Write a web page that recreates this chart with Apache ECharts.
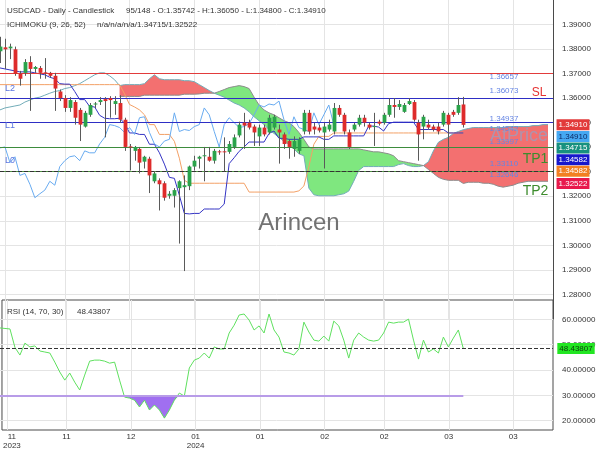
<!DOCTYPE html>
<html><head><meta charset="utf-8">
<script src="https://cdn.jsdelivr.net/npm/echarts@6/dist/echarts.min.js"></script>
<style>html,body{margin:0;padding:0;background:#fff}#c{width:600px;height:450px}</style>
</head><body><div id="c"></div>
<script>
// ---------- data ----------
const tickBars   = [2, 13, 26, 39, 52, 65, 77, 90, 103];
const tickLabels = ['11\n2023', '11', '12', '01\n2024', '01', '02', '02', '03', '03'];
const gridBars   = [1, 13, 26, 39, 52, 65, 77, 90, 103];
const slotCount = 112;

// [open, close, low, high]
const candles = [
[1.3791,1.3810,1.3743,1.3850],[1.3807,1.3799,1.3719,1.3842],[1.3803,1.3810,1.3759,1.3822],[1.3799,1.3699,1.3691,1.3810],[1.3699,1.3679,1.3651,1.3711],
[1.3703,1.3747,1.3691,1.3759],[1.3747,1.3719,1.3548,1.3771],[1.3719,1.3727,1.3703,1.3731],[1.3723,1.3703,1.3679,1.3731],[1.3703,1.3699,1.3679,1.3763],
[1.3703,1.3691,1.3683,1.3707],[1.3691,1.3639,1.3548,1.3703],[1.3627,1.3600,1.3588,1.3635],[1.3600,1.3560,1.3544,1.3612],[1.3560,1.3592,1.3544,1.3604],
[1.3584,1.3520,1.3492,1.3592],[1.3552,1.3492,1.3425,1.3560],[1.3484,1.3540,1.3480,1.3548],[1.3532,1.3572,1.3524,1.3580],[1.3572,1.3576,1.3560,1.3584],
[1.3584,1.3592,1.3572,1.3604],[1.3596,1.3588,1.3440,1.3604],[1.3600,1.3592,1.3520,1.3608],[1.3576,1.3588,1.3532,1.3608],[1.3580,1.3512,1.3500,1.3612],
[1.3512,1.3401,1.3385,1.3520],[1.3401,1.3397,1.3305,1.3413],[1.3385,1.3401,1.3345,1.3405],[1.3393,1.3337,1.3293,1.3401],[1.3341,1.3361,1.3313,1.3365],
[1.3353,1.3285,1.3213,1.3361],[1.3261,1.3293,1.3253,1.3301],[1.3265,1.3249,1.3142,1.3273],[1.3253,1.3194,1.3182,1.3261],[1.3202,1.3210,1.3190,1.3221],
[1.3202,1.3225,1.3154,1.3233],[1.3233,1.3261,1.3007,1.3265],[1.3237,1.3245,1.2895,1.3285],[1.3241,1.3321,1.3225,1.3325],[1.3321,1.3345,1.3305,1.3365],
[1.3353,1.3361,1.3313,1.3365],[1.3361,1.3365,1.3261,1.3401],[1.3361,1.3345,1.3341,1.3401],[1.3345,1.3385,1.3333,1.3393],[1.3381,1.3377,1.3369,1.3389],
[1.3381,1.3377,1.3301,1.3440],[1.3381,1.3413,1.3373,1.3425],[1.3401,1.3440,1.3393,1.3452],[1.3448,1.3492,1.3440,1.3504],[1.3500,1.3488,1.3393,1.3540],
[1.3500,1.3480,1.3472,1.3512],[1.3484,1.3460,1.3405,1.3492],[1.3444,1.3480,1.3405,1.3492],[1.3480,1.3452,1.3444,1.3492],[1.3460,1.3520,1.3452,1.3532],
[1.3480,1.3524,1.3472,1.3532],[1.3472,1.3460,1.3333,1.3492],[1.3452,1.3413,1.3393,1.3460],[1.3425,1.3401,1.3353,1.3432],[1.3393,1.3425,1.3361,1.3444],
[1.3385,1.3432,1.3373,1.3440],[1.3464,1.3540,1.3452,1.3552],[1.3540,1.3464,1.3452,1.3552],[1.3484,1.3472,1.3452,1.3500],[1.3480,1.3468,1.3460,1.3492],
[1.3460,1.3484,1.3313,1.3500],[1.3472,1.3492,1.3464,1.3512],[1.3464,1.3560,1.3452,1.3580],[1.3560,1.3532,1.3524,1.3572],[1.3532,1.3464,1.3452,1.3540],
[1.3460,1.3401,1.3393,1.3472],[1.3472,1.3492,1.3464,1.3500],[1.3492,1.3520,1.3484,1.3532],[1.3520,1.3500,1.3484,1.3532],[1.3492,1.3480,1.3472,1.3500],
[1.3480,1.3484,1.3405,1.3540],[1.3504,1.3496,1.3488,1.3512],[1.3500,1.3532,1.3492,1.3540],[1.3532,1.3572,1.3524,1.3600],[1.3572,1.3564,1.3520,1.3600],
[1.3564,1.3576,1.3552,1.3592],[1.3544,1.3572,1.3540,1.3580],[1.3576,1.3588,1.3572,1.3600],[1.3584,1.3512,1.3504,1.3592],[1.3500,1.3452,1.3345,1.3512],
[1.3484,1.3524,1.3432,1.3532],[1.3492,1.3480,1.3472,1.3512],[1.3484,1.3472,1.3464,1.3492],[1.3484,1.3464,1.3452,1.3500],[1.3492,1.3540,1.3484,1.3548],
[1.3532,1.3492,1.3301,1.3540],[1.3544,1.3532,1.3524,1.3552],[1.3540,1.3572,1.3532,1.3604],[1.35742,1.34910,1.34800,1.36050]
];

const tenkan = [
1.3723,1.3719,1.3715,1.3711,1.3707,1.3707,1.3707,1.3703,1.3699,1.3695,
1.3685,1.3679,1.3659,1.3657,1.3657,1.3627,1.3594,1.3594,1.3566,1.3564,
1.3530,1.3518,1.3516,1.3516,1.3518,1.3498,1.3458,1.3458,1.3452,1.3452,
1.3412,1.3412,1.3377,1.3331,1.3277,1.3273,1.3204,1.3130,1.3128,1.3130,
1.3130,1.3148,1.3148,1.3148,1.3148,1.3168,1.3333,1.3357,1.3383,1.3401,
1.3421,1.3421,1.3421,1.3421,1.3456,1.3466,1.3436,1.3436,1.3432,1.3432,
1.3432,1.3442,1.3442,1.3442,1.3442,1.3432,1.3432,1.3446,1.3446,1.3446,
1.3446,1.3446,1.3446,1.3446,1.3486,1.3486,1.3482,1.3466,1.3496,1.3502,
1.3502,1.3502,1.3502,1.3502,1.3472,1.3472,1.3472,1.3472,1.3472,1.3472,
1.3458,1.3458,1.3458,1.3458];

const kijun = [
1.3655,1.3655,1.3655,1.3655,1.3655,1.3655,1.3655,1.3655,1.3655,1.3655,
1.3655,1.3655,1.3655,1.3655,1.3655,1.3655,1.3655,1.3655,1.3655,1.3655,
1.3655,1.3655,1.3655,1.3655,1.3655,1.3617,1.3574,1.3564,1.3552,1.3532,
1.3492,1.3492,1.3452,1.3452,1.3452,1.3424,1.3355,1.3265,1.3253,1.3253,
1.3253,1.3253,1.3253,1.3253,1.3253,1.3253,1.3253,1.3253,1.3253,1.3253,
1.3217,1.3217,1.3217,1.3217,1.3217,1.3217,1.3217,1.3217,1.3217,1.3217,
1.3222,1.3242,1.3321,1.3412,1.3444,1.3444,1.3444,1.3458,1.3458,1.3458,
1.3458,1.3458,1.3458,1.3458,1.3458,1.3458,1.3458,1.3458,1.3458,1.3458,
1.3458,1.3458,1.3458,1.3458,1.3458,1.3458,1.3458,1.3458,1.3458,1.3458,
1.3458,1.3458,1.3458,1.3458];

const chikou = [
1.3397,1.3401,1.3337,1.3361,1.3285,1.3293,1.3249,1.3194,1.3210,1.3225,
1.3261,1.3245,1.3321,1.3345,1.3361,1.3365,1.3345,1.3385,1.3377,1.3377,
1.3413,1.3440,1.3492,1.3488,1.3480,1.3460,1.3480,1.3452,1.3520,1.3524,
1.3460,1.3413,1.3401,1.3425,1.3432,1.3540,1.3464,1.3472,1.3468,1.3484,
1.3492,1.3560,1.3532,1.3464,1.3401,1.3492,1.3520,1.3500,1.3480,1.3484,
1.3496,1.3532,1.3572,1.3564,1.3576,1.3572,1.3588,1.3512,1.3452,1.3524,
1.3480,1.3472,1.3464,1.3540,1.3492,1.3532,1.3572,1.3491];

const senkouA = [
1.3552,1.3560,1.3564,1.3568,1.3572,1.3584,1.3592,1.3600,1.3604,1.3612,
1.3620,1.3627,1.3631,1.3639,1.3643,1.3651,1.3659,1.3671,1.3683,1.3695,
1.3703,1.3703,1.3691,1.3675,1.3651,1.3655,1.3655,1.3655,1.3655,1.3659,
1.3679,1.3695,1.3679,1.3675,1.3675,1.3675,1.3675,1.3671,1.3671,1.3667,
1.3655,1.3643,1.3631,1.3620,1.3612,1.3604,1.3592,1.3580,1.3572,1.3560,
1.3544,1.3524,1.3508,1.3492,1.3472,1.3456,1.3440,1.3424,1.3412,1.3393,
1.3373,1.3365,1.3233,1.3206,1.3202,1.3202,1.3202,1.3202,1.3206,1.3210,
1.3221,1.3261,1.3305,1.3321,1.3321,1.3321,1.3321,1.3321,1.3321,1.3321,
1.3329,1.3333,1.3325,1.3321,1.3321,1.3325,1.3341,1.3385,1.3420,1.3432,
1.3440,1.3456,1.3464,1.34715,1.3476,1.3480,1.3480,1.3480,1.3480,1.3480,
1.3480,1.3480,1.3484,1.3484,1.3484,1.3484,1.3484,1.3488,1.3488,1.3492,1.3492];

const senkouB = [
null,null,null,null,null,null,null,null,null,null,
null,null,null,null,null,null,null,null,null,null,
null,null,null,null,1.3607,1.3607,1.3607,1.3607,1.3607,1.3612,
1.3612,1.3612,1.3612,1.3612,1.3612,1.3612,1.3612,1.3616,1.3616,1.3616,
1.3617,1.3620,1.3620,1.3620,1.3627,1.3635,1.3643,1.3647,1.3651,1.3647,
1.3639,1.3604,1.3572,1.3552,1.3540,1.3532,1.3520,1.3508,1.3500,1.3484,
1.3460,1.3432,1.3401,1.3393,1.3393,1.3393,1.3393,1.3393,1.3393,1.3393,
1.3393,1.3393,1.3393,1.3389,1.3385,1.3381,1.3381,1.3377,1.3373,1.3365,
1.3345,1.3341,1.3337,1.3333,1.3329,1.3325,1.3309,1.3293,1.3277,1.3269,
1.3265,1.3265,1.3265,1.32522,1.3257,1.3257,1.3257,1.3253,1.3253,1.3249,
1.3241,1.3237,1.3241,1.3245,1.3253,1.3257,1.3261,1.3261,1.3261,1.3261,1.3261];

const rsi = [
56.6,56.4,56.2,48.9,45.9,50.6,49.1,49.5,47.5,47.1,
46.7,43.1,39.2,36.0,38.8,35.2,32.1,38.0,43.5,43.9,
43.9,43.5,42.7,43.1,36.0,29.3,28.9,28.1,25.4,28.1,
24.2,26.2,24.2,21.0,24.2,28.1,30.9,29.7,40.8,43.9,
44.7,46.7,44.7,49.1,48.3,48.3,54.6,57.7,61.7,62.1,
59.7,55.8,57.4,54.6,62.1,55.8,53.0,47.1,46.7,45.9,
48.3,58.9,55.0,51.8,51.4,53.4,51.4,59.3,57.4,51.8,
44.7,51.8,54.6,53.0,51.8,51.4,51.8,54.6,58.9,58.5,
58.9,58.9,60.1,51.8,44.3,51.8,47.1,48.3,46.7,53.0,
49.1,52.6,55.8,48.43807];
const rsiLast = 48.43807;
const rsiLow = 30;

// horizontal levels
const levelValues = [1.36657, 1.36073, 1.34937, 1.34910, 1.34715, 1.34582, 1.34542, 1.33997, 1.33110, 1.32646, 1.32522];
const levelLabels = ['1.36657', '1.36073', '1.34937', '', '', '', '1.34542', '1.33997', '1.33110', '1.32646', ''];
const levelColors = ['#e23b3b', '#2e2ec4', '#333333', '#333333', '#333333', '#2e2ec4', '#2e2ec4', '#3d8c3d', '#5050e0', '#4d9440', '#333333'];
const levelTypes  = ['solid', 'solid', 'dashed', 'dashed', 'dashed', 'solid', 'dashed', 'solid', 'solid', 'solid', 'dashed'];

// price tags on the right axis
const tagValues = [1.34910, 1.34910, 1.34715, 1.34582, 1.34582, 1.32522];
const tagBg     = ['#e23a3a', '#45a8f2', '#17917f', '#1717cc', '#f28022', '#e8194c'];
const tagFg     = ['#ffffff', '#0d2a66', '#ffffff', '#ffffff', '#ffffff', '#ffffff'];

// ---------- chart ----------
const FONT = '"Liberation Sans",Arial,Helvetica,sans-serif';
const PW = 553;
const cats = Array.from({length: slotCount}, (_, i) => String(i));
const gridSet = new Set(gridBars);
const labelAt = {}; tickBars.forEach((b, k) => labelAt[b] = tickLabels[k]);

const candleData = candles.map((d, i) => [i, d[0], d[1], d[2], d[3]]);
const redBase = [], redDiff = [], greenBase = [], greenDiff = [];
senkouA.forEach((a, i) => {
  const b = senkouB[i];
  if (a == null || b == null) { redBase.push(null); redDiff.push(null); greenBase.push(null); greenDiff.push(null); return; }
  redBase.push(b); redDiff.push(+(Math.max(a - b, 0)).toFixed(6));
  greenBase.push(a); greenDiff.push(+(Math.max(b - a, 0)).toFixed(6));
});
const rsiFloor = rsi.map(v => Math.min(v, rsiLow));
const rsiGap = rsi.map(v => +(rsiLow - Math.min(v, rsiLow)).toFixed(4));

function renderCandle(params, api) {
  const i = api.value(0), o = api.value(1), c = api.value(2), l = api.value(3), h = api.value(4);
  const po = api.coord([i, o]), pc = api.coord([i, c]), pl = api.coord([i, l]), ph = api.coord([i, h]);
  const x = Math.round(po[0]) + 0.5;
  const bw = 3.8;
  let top = Math.min(po[1], pc[1]), hg = Math.abs(po[1] - pc[1]);
  if (hg < 1) { top -= 0.5; hg = 1; }
  return { type: 'group', children: [
    { type: 'line', shape: { x1: x, y1: ph[1], x2: x, y2: pl[1] }, style: { stroke: '#5a5a5a', lineWidth: 1 } },
    { type: 'rect', shape: { x: x - bw / 2, y: top, width: bw, height: hg }, style: { fill: c >= o ? '#2aa34a' : '#de2b2b' } }
  ]};
}

const xAxisBase = (gi) => ({
  type: 'category', data: cats, gridIndex: gi, boundaryGap: false,
  axisLine: { show: false }, axisTick: { show: false }, axisLabel: { show: false },
  splitLine: { show: gi !== 1, interval: (idx) => gridSet.has(idx), lineStyle: { color: '#e4e4e4', width: 1 } }
});
const xAxes = [xAxisBase(0), xAxisBase(1), xAxisBase(2)];
xAxes[2].axisLabel = {
  show: true, interval: (idx) => labelAt[idx] !== undefined, formatter: (v, idx) => labelAt[idx] || '',
  fontSize: 8, lineHeight: 8.5, margin: 3, color: '#333', fontFamily: FONT
};

const lineS = (name, data, color, z, xi = 0, yi = 0) => ({
  name, type: 'line', data, xAxisIndex: xi, yAxisIndex: yi, symbol: 'none', silent: true,
  lineStyle: { color, width: 1 }, itemStyle: { color }, z
});

const option = {
  animation: false,
  grid: [
    { left: 0, width: PW, top: -7.6, height: 326.5 },
    { left: 0, width: PW, top: 294, height: 152 },
    { left: 0, width: PW, top: 300, height: 132, show: true, borderColor: '#4a4a4a', borderWidth: 1, backgroundColor: 'transparent' }
  ],
  xAxis: xAxes,
  yAxis: [
    { type: 'value', gridIndex: 0, position: 'right', min: 1.27, max: 1.40, interval: 0.01,
      axisLine: { show: true, lineStyle: { color: '#4a4a4a' } }, axisTick: { show: false },
      axisLabel: { fontSize: 8, color: '#333', fontFamily: FONT, margin: 9,
        formatter: v => (v < 1.275 || v > 1.395) ? '' : v.toFixed(5) },
      splitLine: { show: true, showMinLine: false, showMaxLine: false, lineStyle: { color: '#e4e4e4' } } },
    { type: 'value', gridIndex: 1, position: 'right', min: 10, max: 70, interval: 10,
      axisLine: { show: false }, axisTick: { show: false },
      axisLabel: { fontSize: 8, color: '#333', fontFamily: FONT, margin: 9,
        formatter: v => (v < 15 || v > 65) ? '' : v.toFixed(5) },
      splitLine: { show: true, showMinLine: false, showMaxLine: false, lineStyle: { color: '#e4e4e4' } } },
    { type: 'value', gridIndex: 2, show: false }
  ],
  series: [
    { type: 'line', data: redBase, stack: 'red', symbol: 'none', silent: true, lineStyle: { width: 0 }, z: 1 },
    { type: 'line', data: redDiff, stack: 'red', symbol: 'none', silent: true, lineStyle: { width: 0 }, areaStyle: { color: '#f37070', opacity: 1 }, z: 1 },
    { type: 'line', data: greenBase, stack: 'green', symbol: 'none', silent: true, lineStyle: { width: 0 }, z: 1 },
    { type: 'line', data: greenDiff, stack: 'green', symbol: 'none', silent: true, lineStyle: { width: 0 }, areaStyle: { color: '#7fe77f', opacity: 1 }, z: 1 },
    lineS('senkouA', senkouA, '#72acb8', 2),
    lineS('senkouB', senkouB, '#8c8c8c', 2),
    Object.assign(lineS('kijun', kijun, '#f3a066', 3), {
      markLine: { silent: true, symbol: 'none', label: { show: false }, animation: false,
        data: levelValues.map((v, k) => ({ yAxis: v, lineStyle: { color: levelColors[k], type: levelTypes[k], width: 1 } })) }
    }),
    lineS('tenkan', tenkan, '#3434c4', 3),
    lineS('chikou', chikou, '#68abf0', 3),
    { type: 'custom', data: candleData, renderItem: renderCandle, xAxisIndex: 0, yAxisIndex: 0,
      encode: { x: 0, y: [1, 2, 3, 4] }, clip: true, silent: true, z: 5 },
    { type: 'line', data: rsiFloor, stack: 'rsi', xAxisIndex: 1, yAxisIndex: 1, symbol: 'none', silent: true, lineStyle: { width: 0 }, z: 1 },
    { type: 'line', data: rsiGap, stack: 'rsi', xAxisIndex: 1, yAxisIndex: 1, symbol: 'none', silent: true, lineStyle: { width: 0 }, areaStyle: { color: '#a06ff0', opacity: 1 }, z: 1 },
    Object.assign(lineS('rsi', rsi, '#5fe05f', 4, 1, 1), {
      markLine: { silent: true, symbol: 'none', label: { show: false }, animation: false,
        data: [
          { yAxis: rsiLast, lineStyle: { color: '#333', type: 'dashed', width: 1 } },
          [ { coord: [0, rsiLow], lineStyle: { color: '#b89ce8', type: 'solid', width: 2 } }, { coord: [rsi.length - 1, rsiLow] } ]
        ] }
    })
  ]
};

const chart = echarts.init(document.getElementById('c'));
chart.setOption(option);

// ---------- annotations ----------
const py = v => chart.convertToPixel({ yAxisIndex: 0 }, v);
const pyR = v => chart.convertToPixel({ yAxisIndex: 1 }, v);
const g = [];
function txt(text, x, y, size, fill, extra) {
  g.push({ type: 'text', x, y, z: 100, silent: true,
    style: Object.assign({ text, font: size + 'px ' + FONT, fill, align: 'left', verticalAlign: 'middle' }, extra || {}) });
}
txt('USDCAD - Daily - Candlestick', 7, 10.5, 8, '#333');
txt('95/148 - O:1.35742 - H:1.36050 - L:1.34800 - C:1.34910', 126, 10.5, 8, '#333');
txt('ICHIMOKU (9, 26, 52)', 7, 25, 8, '#333');
txt('n/a/n/a/n/a/1.34715/1.32522', 97, 25, 8, '#333');
txt('RSI (14, 70, 30)', 7, 311.5, 8, '#333');
txt('48.43807', 77, 311.5, 8, '#333');

txt('Arincen', 299, 223, 24, '#727272', { align: 'center' });

levelValues.forEach((v, k) => {
  if (levelLabels[k]) txt(levelLabels[k], 504, py(v) - 5.5, 8, '#6585e4', { align: 'center' });
});
txt('AtPrice', 519, py(1.34910) + 11, 18, 'rgba(150,160,195,0.75)', { align: 'center' });
txt('L2', 5, py(1.36073) - 8, 9, '#5a74e0');
txt('L1', 5, py(1.34542) - 8.5, 9, '#5a74e0');
txt('L0', 5, py(1.33110) - 8.7, 9, '#5a74e0');
txt('SL', 539, py(1.36073) - 4, 12, '#e63232', { align: 'center' });
txt('TP1', 535.5, py(1.33997) + 11.5, 14, '#3d8c2d', { align: 'center' });
txt('TP2', 535.5, py(1.32522) + 8, 14, '#3d8c2d', { align: 'center' });

let prevY = -1e9;
tagValues.forEach((v, k) => {
  let y = py(v);
  if (y < prevY + 11.6) y = prevY + 11.6;
  prevY = y;
  txt(v.toFixed(5), 573, y, 8, tagFg[k], { align: 'center', backgroundColor: tagBg[k], padding: [2, 2, 1, 2] });
});
txt(rsiLast.toFixed(5), 576, pyR(rsiLast), 8, '#0b3d0b', { align: 'center', backgroundColor: '#22e622', padding: [2, 2, 1, 2] });

chart.setOption({ graphic: g });
</script>
</body></html>
